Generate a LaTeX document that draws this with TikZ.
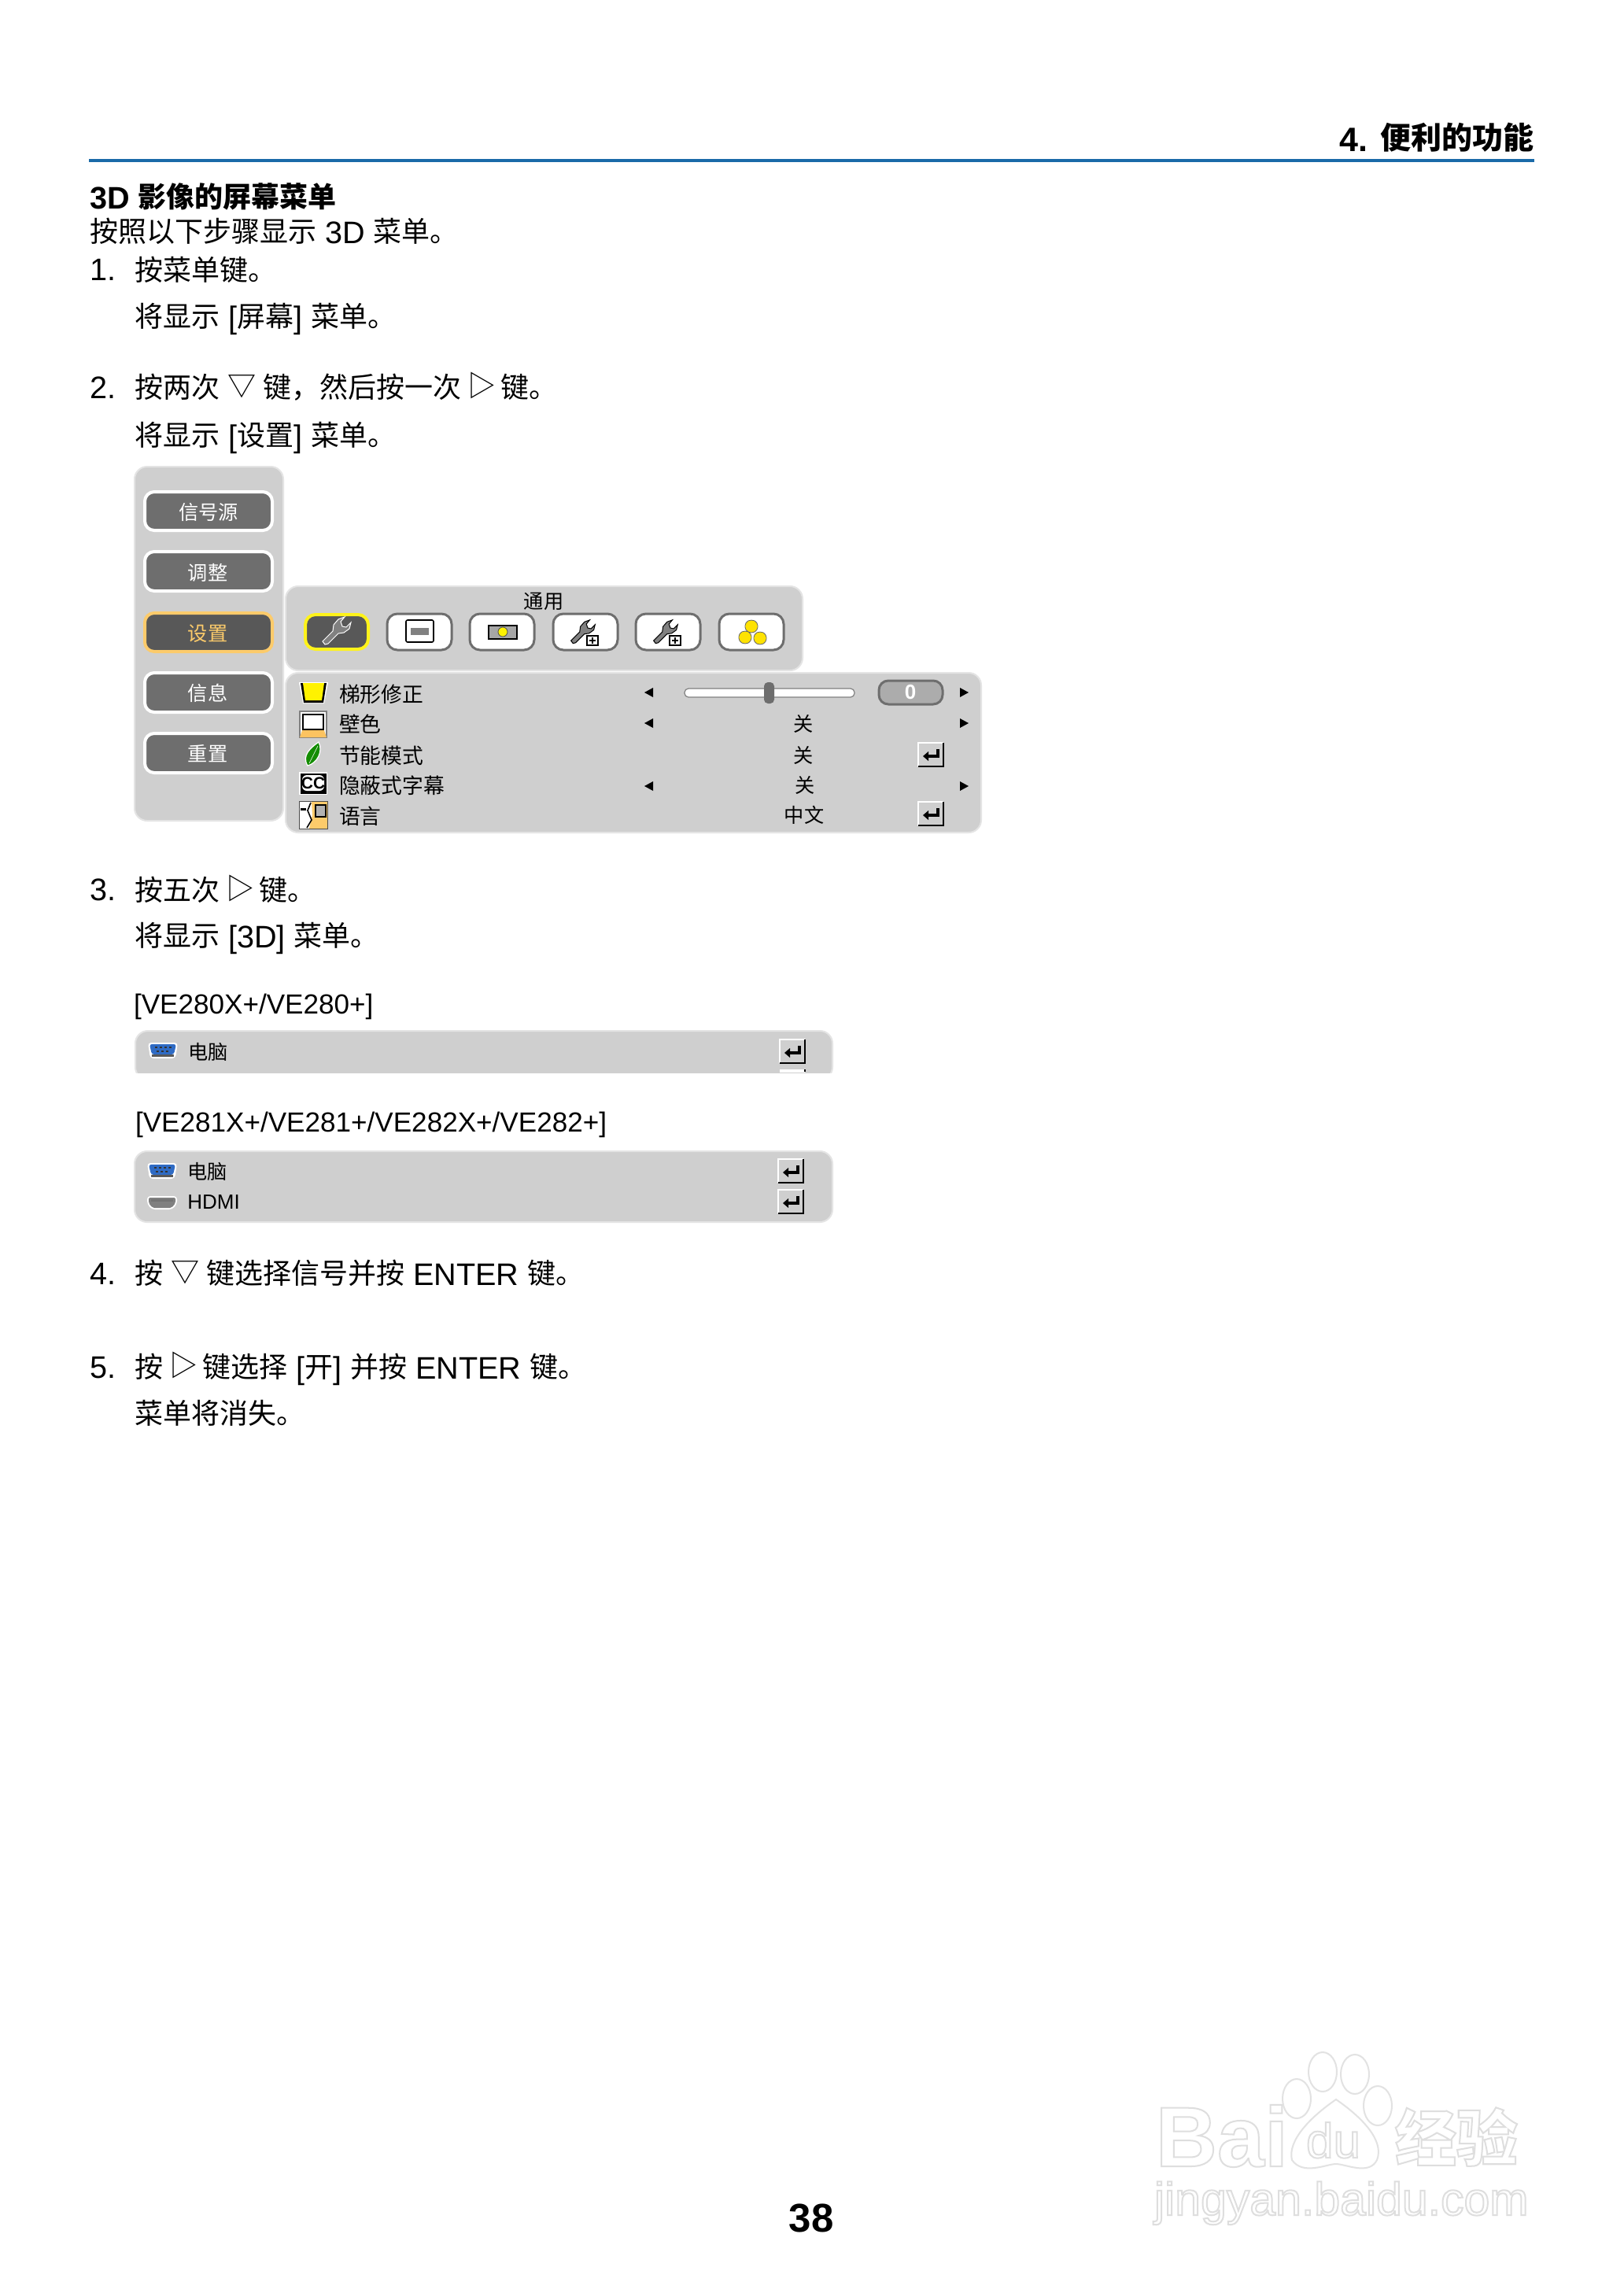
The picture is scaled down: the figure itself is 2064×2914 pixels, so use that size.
\documentclass[tikz,border=0pt]{standalone}
\usepackage{fontspec}
\setmainfont{Liberation Sans}
\newfontfamily\cjk{Noto Sans CJK SC}
\newcommand\cj[1]{\raisebox{1pt}{\fontsize{18}{20}\selectfont\cjk #1}}
\newcommand\dntri{\kern-.5pt\raisebox{2pt}{\fontsize{18}{20}\selectfont\cjk ▽}\kern-1pt}
\newcommand\rttri{\kern-1.5pt\raisebox{2pt}{\fontsize{18}{20}\selectfont\cjk ▷}\kern-2.5pt}
\newcommand\body{\fontsize{19.8}{22}\selectfont}
\newcommand\menu{\fontsize{12.6}{14}\selectfont\cjk}
\newcommand\rowf{\fontsize{13.4}{15}\selectfont\cjk}
\newcommand\outl[1]{\special{pdf:code q 1 Tr 1 w 0.87 G}#1\special{pdf:code Q}}
\definecolor{panel}{HTML}{CFCFCF}
\definecolor{panedge}{HTML}{E4E4E4}
\definecolor{btn}{HTML}{6E6E6E}
\definecolor{btnsel}{HTML}{585858}
\definecolor{orng}{HTML}{FCCB6B}
\definecolor{rule}{HTML}{1A6AA8}
\definecolor{wmk}{HTML}{E2E2E2}
\definecolor{vgab}{HTML}{2F6BC4}
\tikzset{
  tb/.style={anchor=base west,inner sep=0pt,outer sep=0pt,font=\body},
  mt/.style={anchor=west,inner sep=0pt,outer sep=0pt,font=\rowf},
  mc/.style={anchor=center,inner sep=0pt,outer sep=0pt,font=\menu},
  pane/.style={fill=panel,draw=panedge,line width=1pt,rounded corners=8pt},
  sidebtn/.style={fill=btn,draw=white,line width=2pt,rounded corners=6pt},
  sidesel/.style={fill=btnsel,draw=orng,line width=2pt,rounded corners=6pt},
  icobtn/.style={fill=white,draw=btn,line width=1.5pt,rounded corners=6.5pt},
  icosel/.style={fill=btnsel,draw=yellow!90!white,line width=2pt,rounded corners=6.5pt},
  wrenchshape/.pic={
    \path[pic actions,line width=.5pt]
      (-15,16)--(-18,12)--(-5,-1)--(-4,-9)--(2,-16)--(10,-19)--(5,-13)--(7,-7)--(12,-6)--(18,-12)--(16,-4)--(9,1)--(2,2)--(-11,15)--cycle;
  },
  enterico/.pic={
    \fill[panel] (0,0) rectangle (32,30);
    \draw[white,line width=.8pt] (0,30)--(0,0)--(32,0);
    \draw[black,line width=.9pt] (0,30)--(32,30)--(32,0);
    \draw[black,line width=1.7pt] (25,8)--(25,17)--(11,17);
    \fill[black] (6,17)--(13,11)--(13,23)--cycle;
  },
  vgaico/.pic={
    \fill[white,rounded corners=2pt] (0,0)--(38,0)--(35,20)--(3,20)--cycle;
    \fill[vgab,rounded corners=1.5pt] (2,2)--(36,2)--(33,15)--(5,15)--cycle;
    \fill[black!65] (5,15) rectangle (33,18);
    \foreach \i in {9,15,21,27}{\fill[black!80] (\i,5) rectangle (\i+3,7);}
    \foreach \i in {11,17,23}{\fill[black!80] (\i,10) rectangle (\i+3,12);}
  },
}
\begin{document}
\begin{tikzpicture}[x=0.5pt,y=-0.5pt]
\useasboundingbox (0,0) rectangle (2064,2914);
\fill[white] (0,0) rectangle (2064,2914);

% ---- header
\node[anchor=base east,inner sep=0pt,font=\fontsize{21.5}{24}\selectfont\bfseries] (hdr) at (1950,192) {4. \raisebox{1.5pt}{\fontsize{19.5}{22}\selectfont\cjk 便利的功能}};
\fill[rule] (113,202) rectangle (1950,206);

% ---- body text
\node[tb] (h1) at (114,265) {\bfseries 3D \cj{影像的屏幕菜单}};
\node[tb] (l0) at (114,309) {\cj{按照以下步骤显示} 3D \cj{菜单。}};
\node[tb] (n1) at (114,356) {1.};
\node[tb] (l1) at (171,358) {\cj{按菜单键。}};
\node[tb] (l1b) at (171,417) {\cj{将显示} [\cj{屏幕}] \cj{菜单。}};
\node[tb] (n2) at (114,506) {2.};
\node[tb] (l2) at (171,507) {\cj{按两次} \dntri{} \cj{键，然后按一次} \rttri{} \cj{键。}};
\node[tb] (l2b) at (171,568) {\cj{将显示} [\cj{设置}] \cj{菜单。}};
\node[tb] (n3) at (114,1144) {3.};
\node[tb] (l3) at (171,1146) {\cj{按五次} \rttri{} \cj{键。}};
\node[tb] (l3b) at (171,1204) {\cj{将显示} [3D] \cj{菜单。}};
\node[tb,font=\fontsize{17.55}{20}\selectfont] (v1) at (170,1288) {[VE280X+/VE280+]};
\node[tb,font=\fontsize{17.55}{20}\selectfont] (v2) at (172,1438) {[VE281X+/VE281+/VE282X+/VE282+]};
\node[tb] (n4) at (114,1632) {4.};
\node[tb] (l4) at (171,1633) {\cj{按} \dntri{} \cj{键选择信号并按} ENTER \cj{键。}};
\node[tb] (n5) at (114,1751) {5.};
\node[tb] (l5) at (171,1752) {\cj{按} \rttri{} \cj{键选择} [\cj{开}] \cj{并按} ENTER \cj{键。}};
\node[tb] (l5b) at (171,1811) {\cj{菜单将消失。}};

% ---- left menu
\draw[pane] (171,593) rectangle (360,1043);
\draw[sidebtn] (184,625) rectangle (346,674);
\node[mc,text=white] (s1) at (265,651) {信号源};
\draw[sidebtn] (184,701) rectangle (346,751);
\node[mc,text=white] (s2) at (264,728) {调整};
\draw[sidesel] (184,779) rectangle (346,828);
\node[mc,text=orng] (s3) at (264,805) {设置};
\draw[sidebtn] (184,855) rectangle (346,905);
\node[mc,text=white] (s4) at (264,881) {信息};
\draw[sidebtn] (184,932) rectangle (346,982);
\node[mc,text=white] (s5) at (264,958) {重置};

% ---- top panel
\draw[pane] (363,745) rectangle (1020,852);
\node[mc] (tg) at (691,764) {通用};
\draw[icosel] (388,781) rectangle (468,825);
\pic[fill=gray,draw=white] at (428,803) {wrenchshape};
\draw[icobtn] (492,780) rectangle (574,826);
\draw[black,line width=.8pt,fill=white,rounded corners=1pt] (516,788) rectangle (551,816);
\fill[gray] (522,798) rectangle (545,807);
\draw[icobtn] (597,780) rectangle (679,826);
\filldraw[fill=gray!70,draw=black,line width=.8pt] (621,795) rectangle (657,812);
\filldraw[fill=yellow,draw=black!70,line width=.4pt] (639,803) circle[radius=6];
\draw[icobtn] (703,780) rectangle (785,826);
\pic[scale=.85,fill=gray,draw=black] at (741,804) {wrenchshape};
\filldraw[fill=white,draw=black,line width=.7pt] (746,808) rectangle (760,820);
\draw[black,line width=.7pt] (749,814)--(757,814) (753,810)--(753,818);
\draw[icobtn] (808,780) rectangle (890,826);
\pic[scale=.85,fill=gray,draw=black] at (846,804) {wrenchshape};
\filldraw[fill=white,draw=black,line width=.7pt] (851,808) rectangle (865,820);
\draw[black,line width=.7pt] (854,814)--(862,814) (858,810)--(858,818);
\draw[icobtn] (914,780) rectangle (996,826);
\foreach \cx/\cy in {955/796,947/810,966/811}{
  \filldraw[fill=yellow!85!orange,draw=black!60,line width=.4pt,rounded corners=2pt]
    (\cx-8,\cy-5)--(\cx,\cy-9)--(\cx+8,\cy-5)--(\cx+8,\cy+5)--(\cx,\cy+9)--(\cx-8,\cy+5)--cycle;
}

% ---- lower panel
\draw[pane] (363,855) rectangle (1247,1058);
% keystone icon
\fill[white] (380,867)--(417,867)--(412,894)--(385,894)--cycle;
\fill[black] (382,868)--(415,868)--(411,893)--(386,893)--cycle;
\fill[yellow] (385,868)--(412,868)--(409,890)--(388,890)--cycle;
% wall colour icon
\filldraw[fill=white,draw=gray,line width=1pt] (381,904) rectangle (415,937);
\draw[black,line width=.8pt] (385,908) rectangle (411,927);
\fill[orng!90!orange] (384,928)--(412,928)--(415,937)--(381,937)--cycle;
% leaf icon
\filldraw[fill=green!50!black!90!lime,draw=white,line width=.6pt] (391,973) .. controls (383,960) and (395,950) .. (405,943) .. controls (411,955) and (403,970) .. (391,973) -- cycle;
\draw[white,line width=.3pt] (393,970)--(404,948);
% CC icon
\fill[white] (380,981) rectangle (416,1010);
\fill[black] (381.5,982.5) rectangle (414.5,1008.5);
\fill[white,rounded corners=3pt] (384,985) rectangle (412,1005);
\node[anchor=center,inner sep=0pt,font=\fontsize{10.5}{12}\selectfont\bfseries] (cc) at (398,995) {CC};
% language icon
\fill[white] (380,1018) rectangle (416,1053);
\fill[orng] (396,1018)--(416,1018)--(416,1053)--(393,1053)--(397,1036)--cycle;
\filldraw[fill=gray!60,draw=black,line width=.7pt] (401,1023) rectangle (414,1038);
\draw[black,line width=.8pt] (395,1020)--(391,1030)--(396,1042)--(390,1052);
\fill[black] (382,1027) rectangle (389,1030);
\draw[black!70,line width=.5pt] (380,1018) rectangle (416,1053);
% row texts
\node[mt] (r1) at (431,882) {梯形修正};
\node[mt] (r2) at (431,920) {壁色};
\node[mt] (r3) at (431,960) {节能模式};
\node[mt] (r4) at (431,998) {隐蔽式字幕};
\node[mt] (r5) at (431,1037) {语言};
% arrows
\foreach \yy in {880,919,999}{
  \fill[black] (819,\yy)--(830,\yy-6)--(830,\yy+6)--cycle;
  \fill[black] (1231,\yy)--(1220,\yy-6)--(1220,\yy+6)--cycle;
}
% slider
\filldraw[fill=white,draw=gray,line width=.6pt,rounded corners=2.5pt] (870,875) rectangle (1086,886);
\fill[btn,rounded corners=2.5pt] (971,867) rectangle (984,894);
\filldraw[fill=gray!65,draw=btn,line width=1.5pt,rounded corners=6pt] (1117,865) rectangle (1198,895);
\node[anchor=center,inner sep=0pt,text=white,font=\fontsize{13}{14}\selectfont\bfseries] (val) at (1157,880) {0};
% values
\node[mc] (v21) at (1021,920) {关};
\node[mc] (v31) at (1021,960) {关};
\node[mc] (v41) at (1023,998) {关};
\node[mc] (v51) at (1022,1036) {中文};
\pic at (1167,944) {enterico};
\pic at (1167,1019) {enterico};

% ---- VE280 panel
\begin{scope}
\clip (160,1300) rectangle (1070,1363);
\draw[pane] (172,1310) rectangle (1058,1372);
\end{scope}
\pic at (188,1325) {vgaico};
\node[mc,anchor=west] (c1) at (239,1337) {电脑};
\pic at (991,1321) {enterico};
\fill[white] (991,1359) rectangle (1023,1363);
\draw[black,line width=.7pt] (1023,1359)--(1023,1362);
% ---- VE281 panel
\draw[pane] (171,1463) rectangle (1058,1553);
\pic at (187,1478) {vgaico};
\node[mc,anchor=west] (c2) at (238,1489) {电脑};
\fill[white,rounded corners=2pt] (187,1520)--(225,1520)--(225,1530)--(219,1537)--(193,1537)--(187,1530)--cycle;
\fill[gray,rounded corners=1pt] (189,1522)--(223,1522)--(223,1529)--(218,1535)--(194,1535)--(189,1529)--cycle;
\fill[black!55] (192,1524) rectangle (220,1527);
\node[anchor=base west,inner sep=0pt,font=\fontsize{13}{14}\selectfont] (hd) at (238,1536) {HDMI};
\pic at (989,1473) {enterico};
\pic at (989,1512) {enterico};

% ---- page number
\node[anchor=center,inner sep=0pt,font=\fontsize{25.5}{28}\selectfont\bfseries] (pg) at (1031,2819) {38};

% ---- watermark
\node[tb] (wb) at (1469,2753) {\fontsize{54}{56}\selectfont\bfseries\outl{Bai}};
\foreach \cx/\cy in {1648/2667,1681/2633,1722/2636,1751/2676}{
  \draw[wmk,line width=1pt] (\cx,\cy) ellipse[x radius=18,y radius=25];
}
\draw[wmk,line width=1pt] (1698,2668) .. controls (1730,2690) and (1760,2720) .. (1750,2745) .. controls (1740,2765) and (1710,2750) .. (1698,2750) .. controls (1686,2750) and (1656,2765) .. (1642,2745) .. controls (1636,2720) and (1666,2690) .. (1698,2668) -- cycle;
\node[tb] (wd) at (1660,2742) {\fontsize{31}{33}\selectfont\outl{du}};
\node[tb] (wj) at (1773,2746) {\fontsize{39}{41}\selectfont\bfseries\outl{\cjk 经验}};
\node[tb] (wu) at (1467,2815) {\fontsize{29.5}{32}\selectfont\outl{jingyan.baidu.com}};
\end{tikzpicture}
\end{document}
